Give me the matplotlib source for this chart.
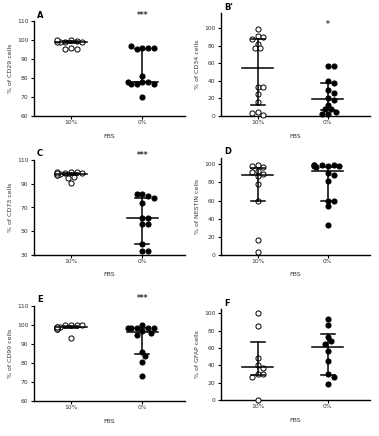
import numpy as np
import matplotlib
matplotlib.use('Agg')
import matplotlib.pyplot as plt

##### datos #####
grupos = ['10%', '0%']

cd29_10 = [100, 99.5, 99, 99, 99, 99, 100, 96, 95.5, 95.5]
cd29_0 = [96, 96, 95, 96, 97, 81, 78, 78, 77, 77, 77, 78, 70]
cd29_med = [99, 78]
cd29_low = [98.5, 78]
cd29_high = [99.5, 95]

cd34_10 = [99, 91, 90, 88, 82, 77, 77, 33, 33, 25, 16, 4, 1, 3]
cd34_0 = [57, 57, 40, 37, 29, 26, 21, 18, 13, 8, 8, 4, 2, 2]
cd34_med = [55, 19]
cd34_low = [12, 7]
cd34_high = [87, 38]

cd73_10 = [100, 100, 99, 99, 98, 97, 97, 96, 95, 100, 99, 91]
cd73_0 = [81, 80, 81, 78, 74, 61, 61, 56, 56, 39, 33, 33]
cd73_med = [98.5, 61]
cd73_low = [97.5, 39]
cd73_high = [99, 78]

nes_10 = [99, 97, 98, 93, 92, 89, 87, 78, 60, 17, 3]
nes_0 = [98, 99, 99, 98, 97, 98, 99, 99, 90, 88, 82, 60, 60, 54, 33]
nes_med = [88.5, 93]
nes_low = [60, 60]
nes_high = [96, 97]

cd90_10 = [100, 100, 100, 100, 99, 98, 98, 98, 99, 99, 93]
cd90_0 = [100, 98.5, 98.5, 98.5, 98.5, 98.5, 97, 96, 95, 86, 83.5, 80.5, 73]
cd90_med = [99, 96.5]
cd90_low = [98.5, 85]
cd90_high = [99.5, 98.5]

gfap_10 = [100, 85, 49, 40, 37, 30, 30, 27, 0]
gfap_0 = [94, 86, 73, 68, 65, 57, 45, 30, 26, 18]
gfap_med = [38.5, 61]
gfap_low = [29, 29]
gfap_high = [66.5, 76]

##### paneles #####
# (letra, datos10, datos0, mediana, bajo, alto, etiqueta, ylim, yticks, estrellas, y estrellas)
paneles = [
    ('A', cd29_10, cd29_0, cd29_med, cd29_low, cd29_high, '% of CD29 cells', (60, 110), [60, 70, 80, 90, 100, 110], '***', 1.06),
    ("B'", cd34_10, cd34_0, cd34_med, cd34_low, cd34_high, '% of CD34 cells', (0, 117), [0, 20, 40, 60, 80, 100], '*', 0.89),
    ('C', cd73_10, cd73_0, cd73_med, cd73_low, cd73_high, '% of CD73 cells', (30, 110), [30, 50, 70, 90, 110], '***', 1.05),
    ('D', nes_10, nes_0, nes_med, nes_low, nes_high, '% of NESTIN cells', (0, 107), [0, 20, 40, 60, 80, 100], '', 1.0),
    ('E', cd90_10, cd90_0, cd90_med, cd90_low, cd90_high, '% of CD90 cells', (60, 110), [60, 70, 80, 90, 100, 110], '***', 1.08),
    ('F', gfap_10, gfap_0, gfap_med, gfap_low, gfap_high, '% of GFAP cells', (0, 105), [0, 20, 40, 60, 80, 100], '', 1.0),
]

# posiciones en pixeles (izq, der, arriba, abajo)
cajas = [(34, 185, 21, 116), (221, 370, 13, 116),
         (34, 185, 160, 255), (221, 370, 158, 255),
         (34, 185, 306, 401), (221, 370, 309, 400)]

W, H = 379, 436
fig = plt.figure(figsize=(W / 100, H / 100), dpi=100)
gris = '#333333'
d_px = 5.2  # diametro del marcador en pixeles


def enjambre(ax, vals, centro):
    # beeswarm sencillo en coordenadas de pantalla
    tr = ax.transData
    cx = tr.transform((centro, 0))[0]
    ys = tr.transform([(centro, v) for v in vals])[:, 1]
    puestos = []
    xs = []
    for y in ys:
        for k in [0, 1, -1, 2, -2, 3, -3, 4, -4, 5, -5]:
            x = cx + k * d_px * 0.55
            ok = True
            for (px, py) in puestos:
                if (px - x) ** 2 + (py - y) ** 2 < (d_px * 0.95) ** 2:
                    ok = False
                    break
            if ok:
                break
        puestos.append((x, y))
        xs.append(x)
    pts = tr.inverted().transform(np.column_stack([xs, ys]))
    return pts[:, 0]


for (letra, d10, d0, med, low, high, etiq, ylim, yt, est, yest), (l, r, t, b) in zip(paneles, cajas):
    ax = fig.add_axes([l / W, 1 - b / H, (r - l) / W, (b - t) / H])
    ax.set_xlim(-0.52, 1.6)
    ax.set_ylim(*ylim)
    for s in ['top', 'right']:
        ax.spines[s].set_visible(False)
    for s in ['left', 'bottom']:
        ax.spines[s].set_linewidth(1.0)
    ax.set_yticks(yt)
    ax.set_xticks([0, 1])
    ax.set_xticklabels(grupos)
    ax.tick_params(axis='both', labelsize=4.3, width=0.8, length=2.5, pad=1.5, labelcolor=gris)
    ax.tick_params(axis='x', length=2, pad=1)
    ax.set_ylabel(etiq, fontsize=4.5, color=gris, labelpad=3)
    ax.set_xlabel('FBS', fontsize=4.5, color=gris, labelpad=6)

    x10 = enjambre(ax, d10, 0)
    x0 = enjambre(ax, d0, 1)
    ax.plot(x10, d10, 'o', ms=3.7, mfc='white', mec='black', mew=0.7, clip_on=False, zorder=3)
    ax.plot(x0, d0, 'o', ms=3.7, mfc='black', mec='black', mew=0.7, clip_on=False, zorder=3)

    # mediana con rango intercuartil
    for i in range(2):
        ax.plot([i - 0.22, i + 0.22], [med[i], med[i]], color='black', lw=1.1, zorder=4)
        ax.plot([i, i], [low[i], high[i]], color='black', lw=1.1, zorder=4)
        ax.plot([i - 0.1, i + 0.1], [low[i], low[i]], color='black', lw=1.1, zorder=4)
        ax.plot([i - 0.1, i + 0.1], [high[i], high[i]], color='black', lw=1.1, zorder=4)

    if est:
        ax.text(1, yest, est, transform=ax.get_xaxis_transform(), ha='center', va='center',
                fontsize=5.5, fontweight='bold', color=gris)
    # la letra se pone justo a la derecha del eje
    fig.text((l + 3) / W, 1 - (t - 6) / H, letra, fontsize=6,
             fontweight='bold', va='center', ha='left')

plt.savefig('out.png', dpi=100)
